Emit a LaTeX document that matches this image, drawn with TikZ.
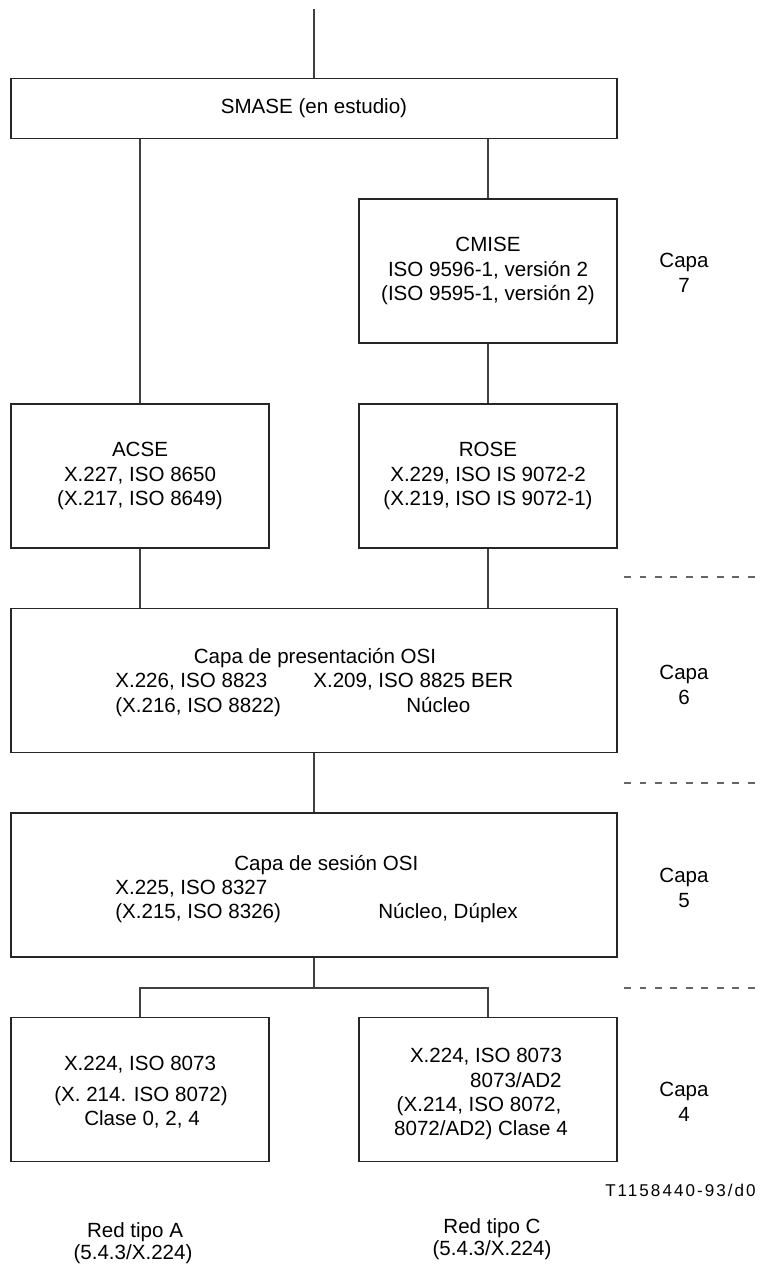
\documentclass[tikz,border=0pt]{standalone}
\usepackage{fontspec}
\setmainfont{Liberation Sans}
\usepackage{tikz}
\usetikzlibrary{positioning,calc}

\tikzset{
  box/.style={draw=black!85, line width=0.8pt, inner sep=0pt, align=center},
  wide/.style={box, minimum width=12.12cm, minimum height=2.88cm},
  half/.style={box, minimum width=5.16cm, minimum height=2.88cm},
  link/.style={draw=black!75, line width=0.8pt},
  sep/.style={draw=black!60, line width=0.8pt, dash pattern=on 3.98pt off 4.84pt},
  capa/.style={align=center},
}

\begin{document}
\begin{tikzpicture}[x=0.02cm, y=-0.02cm, font=\fontsize{11.7}{13.9}\selectfont]
    \useasboundingbox (0,0) rectangle (760,1264);

    % Capa 7
    \coordinate (top) at (314,9.5);
    \node[box, minimum width=12.12cm, minimum height=1.21cm] (smase) at (314,108.5) {SMASE (en estudio)};
    \node[half] (cmise) at (488,271) {CMISE\\ISO 9596-1, versión 2\\(ISO 9595-1, versión 2)};
    \node[half] (acse) at (140,476) {ACSE\\X.227, ISO 8650\\(X.217, ISO 8649)};
    \node[half] (rose) at (488,476) {ROSE\\X.229, ISO IS 9072-2\\(X.219, ISO IS 9072-1)};
    \draw[link] (top) -- (smase.north);
    \draw[link] (smase.south -| acse.north) -- (acse.north);
    \draw[link] (smase.south -| cmise.north) -- (cmise.north);
    \draw[link] (cmise.south) -- (rose.north);

    % Capa 6
    \node[wide] (pres) at (314,680.5) {};
    \node[anchor=base] (prest) at (315,663.5) {Capa de presentación OSI};
    \node[anchor=base west, inner sep=0pt] (presa) at (115,687.5) {X.226, ISO 8823};
    \node[anchor=base west, inner sep=0pt] (presb) at (115,712.5) {(X.216, ISO 8822)};
    \node[anchor=base west, inner sep=0pt] (presc) at (313,687.5) {X.209, ISO 8825 BER};
    \node[anchor=base west, inner sep=0pt] (presd) at (406,712.5) {Núcleo};
    \draw[link] (acse.south) -- (acse.south |- pres.north);
    \draw[link] (rose.south) -- (rose.south |- pres.north);

    % Capa 5
    \node[wide] (sess) at (314,885) {};
    \node[anchor=base west, inner sep=0pt] (sesst) at (234,870) {Capa de sesión OSI};
    \node[anchor=base west, inner sep=0pt] (sessa) at (115,894.5) {X.225, ISO 8327};
    \node[anchor=base west, inner sep=0pt] (sessb) at (115,918.5) {(X.215, ISO 8326)};
    \node[anchor=base west, inner sep=0pt] (sessc) at (378,918.5) {Núcleo, Dúplex};
    \draw[link] (pres.south) -- (sess.north);

    % Capa 4
    \node[half] (tpa) at (140,1089.5) {};
    \node[half] (tpc) at (488,1089.5) {};
    \node[anchor=base] (tpa1) at (140,1070.5) {X.224, ISO 8073};
    \node[anchor=base] (tpa2) at (141,1101.5) {(X. 214. ISO 8072)};
    \node[anchor=base] (tpa3) at (142,1125.5) {Clase 0, 2, 4};
    \node[anchor=base] (tpc1) at (486,1062.5) {X.224, ISO 8073};
    \node[anchor=base east, inner sep=0pt] (tpc2) at (562,1087.5) {8073/AD2};
    \node[anchor=base] (tpc3) at (479,1111.5) {(X.214, ISO 8072,};
    \node[anchor=base] (tpc4) at (481,1135.5) {8072/AD2) Clase 4};
    \coordinate (fork) at (314,988);
    \draw[link] (sess.south) -- (fork);
    \draw[link] (tpa.north) -- (tpa.north |- fork) -- (tpc.north |- fork) -- (tpc.north);

    % separadores y capas
    \foreach \y in {577,783,988}
        \draw[sep] (624,\y) -- (755,\y);
    \node[capa] (c7) at (684,273) {Capa\\7};
    \node[capa] (c6) at (684,685) {Capa\\6};
    \node[capa] (c5) at (684,888) {Capa\\5};
    \node[capa] (c4) at (684,1102) {Capa\\4};

    % redes
    \node[anchor=base] (reda) at (135,1237) {Red tipo A};
    \node[anchor=base] (redaref) at (133,1259) {(5.4.3/X.224)};
    \node[anchor=base] (redc) at (492,1233) {Red tipo C};
    \node[anchor=base] (redcref) at (492,1255.5) {(5.4.3/X.224)};
    \node[anchor=base east, inner sep=0pt, font=\fontsize{9.7}{11}\selectfont\addfontfeature{LetterSpace=12}] (ref) at (756,1196) {T1158440-93/d0};
\end{tikzpicture}
\end{document}
